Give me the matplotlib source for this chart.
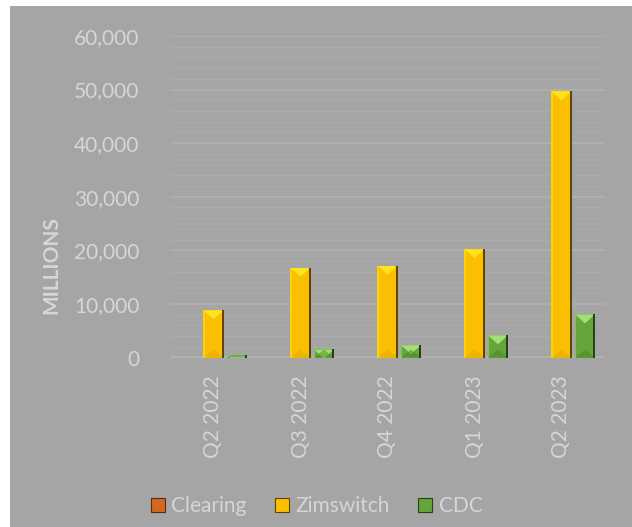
import numpy as np
import matplotlib.pyplot as plt
from matplotlib.patches import Rectangle, Polygon
from matplotlib.lines import Line2D
from matplotlib.ticker import FuncFormatter, MultipleLocator

plt.rcParams['font.family'] = ['Lato', 'DejaVu Sans']

# data (millions)
quarters = ["Q2 2022", "Q3 2022", "Q4 2022", "Q1 2023", "Q2 2023"]
series = ["Clearing", "Zimswitch", "CDC"]
clearing = [0, 0, 0, 0, 0]
zimswitch = [8800, 16750, 17150, 20200, 49700]
cdc = [420, 1500, 2300, 4150, 8050]

# base, top bevel, bottom bevel, edge shadow
palette = {
    "Clearing": ("#d2691e", "#f39a4a", "#a9501a", "#5a2a0c"),
    "Zimswitch": ("#f9bf00", "#ffe41c", "#e0a600", "#5e4600"),
    "CDC": ("#66a53a", "#a3df78", "#4d8529", "#25401a"),
}

bg = "#a5a5a5"
txt = "#d6d6d6"

fig = plt.figure(figsize=(6.32, 5.27), dpi=100, facecolor="white")
fig.patches.append(Rectangle((10 / 632, 0), 1, 1 - 6 / 527, transform=fig.transFigure,
                             facecolor=bg, edgecolor="none", zorder=-10))

ax = fig.add_axes([170 / 632, 1 - 357.5 / 527, 435 / 632, 321.5 / 527])
ax.set_facecolor(bg)
ax.patch.set_alpha(0)
for s in ax.spines.values():
    s.set_visible(False)

ax.set_ylim(0, 60000)
ax.set_xlim(-0.5, len(quarters) - 0.5)
ax.yaxis.set_major_locator(MultipleLocator(10000))
ax.yaxis.set_minor_locator(MultipleLocator(2000))
ax.yaxis.set_major_formatter(FuncFormatter(lambda v, p: f"{v:,.0f}"))
ax.grid(axis="y", which="minor", color="#ababab", lw=0.9, zorder=0)
ax.grid(axis="y", which="major", color="#b0b0b0", lw=1.3, zorder=0)
ax.axhline(0, color="#d3d3d3", lw=2.5, zorder=1)
ax.tick_params(axis="both", which="both", length=0, colors=txt, labelsize=15)
ax.tick_params(axis="y", pad=22)
ax.tick_params(axis="x", pad=13)
ax.set_xticks(range(len(quarters)))
ax.set_xticklabels(quarters, rotation=90)

fig.text(51 / 632, 1 - 265 / 527, "MILLIONS", rotation=90, ha="center", va="center",
         color=txt, fontsize=15, fontweight="bold")

x = np.arange(len(quarters))
w = 0.23
step = 0.27
px_y = 60000 / (321.5)          # data units per pixel (y)
px_x = 5 / 435                  # data units per pixel (x)

for i, (name, vals) in enumerate(zip(series, [clearing, zimswitch, cdc])):
    base, light, dark, edge = palette[name]
    bars = ax.bar(x + (i - 1) * step, vals, w, color=base, edgecolor="none", zorder=2)
    for b in bars:
        x0, h, bw = b.get_x(), b.get_height(), b.get_width()
        if h <= 0:
            continue
        top = Polygon([(x0, h), (x0 + bw, h), (x0 + bw / 2, h - 9 * px_y)],
                      closed=True, facecolor=light, edgecolor="none", zorder=3)
        bot = Polygon([(x0, 0), (x0 + bw, 0), (x0 + bw / 2, 8 * px_y)],
                      closed=True, facecolor=dark, edgecolor="none", zorder=3, alpha=0.5)
        for p in (top, bot):
            ax.add_patch(p)
            p.set_clip_path(b)
        ax.add_patch(Rectangle((x0 + bw - 1.5 * px_x, 0), 1.5 * px_x, h,
                               facecolor=edge, edgecolor="none", zorder=4))
        ax.add_patch(Rectangle((x0, 0), 1.2 * px_x, h,
                               facecolor=light, edgecolor="none", zorder=4, alpha=0.5))

handles = [Line2D([], [], ls="none", marker="s", markersize=10.5,
                  markerfacecolor=palette[n][0], markeredgecolor=palette[n][3],
                  markeredgewidth=0.8) for n in series]
fig.legend(handles, series, loc="center", bbox_to_anchor=(316 / 632, 1 - 506 / 527),
           ncol=3, frameon=False, fontsize=15, labelcolor=txt, handlelength=0.8,
           handletextpad=0.25, columnspacing=1.3)

fig.savefig("out.png", dpi=100, facecolor="white")
